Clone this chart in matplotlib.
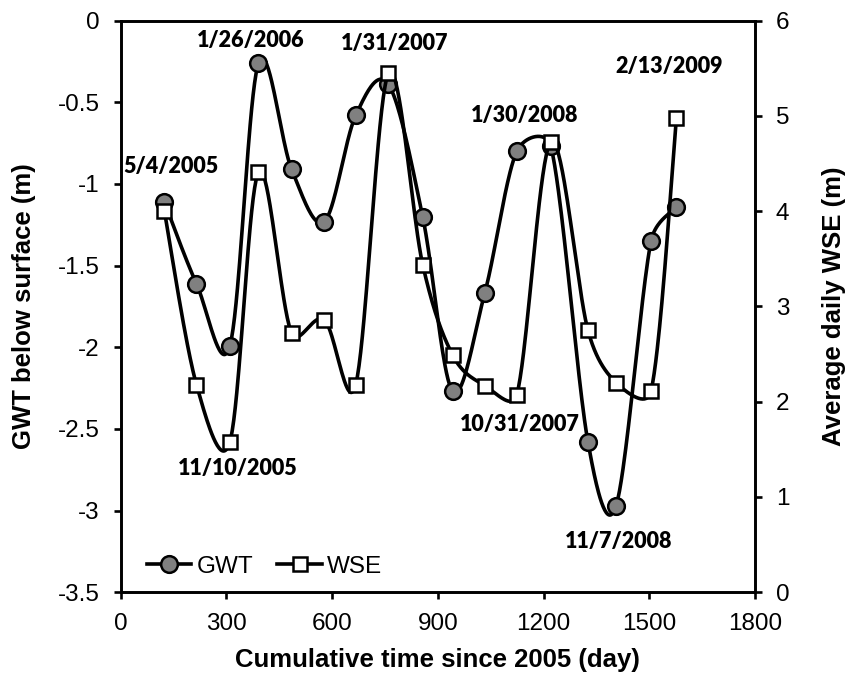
import numpy as np
import matplotlib
matplotlib.use("Agg")
import matplotlib.pyplot as plt
from matplotlib.ticker import FormatStrFormatter

# sampling dates, as cumulative days since 2005
days = [124, 215, 310, 391, 485, 578, 667, 760, 857, 942, 1033, 1124, 1221, 1326, 1406, 1505, 1577]
# groundwater table below surface (m)
gwt = [-1.11, -1.61, -1.99, -0.26, -0.91, -1.23, -0.58, -0.39, -1.20, -2.27,
       -1.67, -0.80, -0.77, -2.58, -2.97, -1.35, -1.14]
# average daily water surface elevation (m)
wse = [4.00, 2.18, 1.58, 4.41, 2.72, 2.86, 2.18, 5.45, 3.44, 2.49,
       2.17, 2.07, 4.73, 2.75, 2.20, 2.11, 4.98]

date_labels = ['5/4/2005', '11/10/2005', '1/26/2006', '1/31/2007',
               '10/31/2007', '1/30/2008', '11/7/2008', '2/13/2009']
label_pos = [(144, -0.89), (333, -2.74), (369, -0.12), (777, -0.14),
             (1132, -2.47), (1146, -0.58), (1412, -3.19), (1557, -0.28)]


def smooth(axis, x, y, n=40):
    """
        Excel-like smoothed line: bezier segments built in screen space,
        tangents limited to half the segment length
    """
    pts = axis.transData.transform(np.column_stack([x, y]))
    t = np.linspace(0, 1, n)[:, None]
    out = []
    for i in range(len(pts) - 1):
        p1, p2 = pts[i], pts[i + 1]
        p0 = pts[i - 1] if i > 0 else p1
        p3 = pts[i + 2] if i + 2 < len(pts) else p2
        d02 = np.hypot(*(p2 - p0))
        d12 = np.hypot(*(p2 - p1))
        d13 = np.hypot(*(p3 - p1))
        f1 = 1 / 6 if d02 / 6 < d12 / 2 else d12 / (2 * d02)
        f2 = 1 / 6 if d13 / 6 < d12 / 2 else d12 / (2 * d13)
        c1 = p1 + f1 * (p2 - p0)
        c2 = p2 - f2 * (p3 - p1)
        seg = ((1 - t) ** 3 * p1 + 3 * (1 - t) ** 2 * t * c1
               + 3 * (1 - t) * t ** 2 * c2 + t ** 3 * p2)
        out.append(seg)
    out = axis.transData.inverted().transform(np.vstack(out))
    return out[:, 0], out[:, 1]


plt.rcParams['font.family'] = ['Liberation Sans', 'DejaVu Sans']

fig = plt.figure(figsize=(8.48, 6.75), dpi=100)
ax = fig.add_axes([0.1423, 0.1227, 0.7480, 0.8466])
ax2 = ax.twinx()

ax.set_xlim(0, 1800)
ax.set_ylim(-3.5, 0)
ax2.set_ylim(0, 6)

lw = 2.6
sx, sy = smooth(ax, days, gwt)
ax.plot(sx, sy, color='black', lw=lw, zorder=2)
ax.plot(days, gwt, 'o', ms=12, mfc='#808080', mec='black', mew=1.8, zorder=3)

sx, sy = smooth(ax2, days, wse)
ax2.plot(sx, sy, color='black', lw=lw, zorder=2)
ax2.plot(days, wse, 's', ms=10.5, mfc='white', mec='black', mew=1.8, zorder=3)

for text, (x, y) in zip(date_labels, label_pos):
    ax.text(x, y, text, ha='center', va='center', fontsize=15.5,
            fontweight='heavy', family=['Lato', 'DejaVu Sans'], color='black', zorder=5)

ax.set_xticks(np.arange(0, 1801, 300))
ax.set_yticks(np.arange(-3.5, 0.01, 0.5))
ax2.set_yticks(np.arange(0, 7, 1))
ax.yaxis.set_major_formatter(FormatStrFormatter('%g'))

for a in (ax, ax2):
    for s in a.spines.values():
        s.set_linewidth(1.9)
    a.tick_params(direction='out', length=5, width=1.9, labelsize=17.5, pad=10)

ax.set_xlabel('Cumulative time since 2005 (day)', fontsize=18.5, fontweight='bold', va='center')
ax.xaxis.set_label_coords(0.5, -0.1186)
ax.set_ylabel('GWT below surface (m)', fontsize=18.5, fontweight='bold', va='center')
ax.yaxis.set_label_coords(-0.1525, 0.5)
ax2.set_ylabel('Average daily WSE (m)', fontsize=18.5, fontweight='bold', va='center')
ax2.yaxis.set_label_coords(1.1245, 0.5)

# legend handles: line with marker
h1, = ax.plot([], [], '-o', color='black', lw=lw, ms=12, mfc='#808080', mec='black', mew=1.8)
h2, = ax.plot([], [], '-s', color='black', lw=lw, ms=10.5, mfc='white', mec='black', mew=1.8)
ax2.legend([h1, h2], ['GWT', 'WSE'], loc='center left', bbox_to_anchor=(0.041, 0.0446),
           frameon=False, ncol=2, fontsize=17.5, handlelength=1.84, handletextpad=0.2,
           columnspacing=1.0, borderpad=0, borderaxespad=0)

fig.savefig('out.png', dpi=100)
